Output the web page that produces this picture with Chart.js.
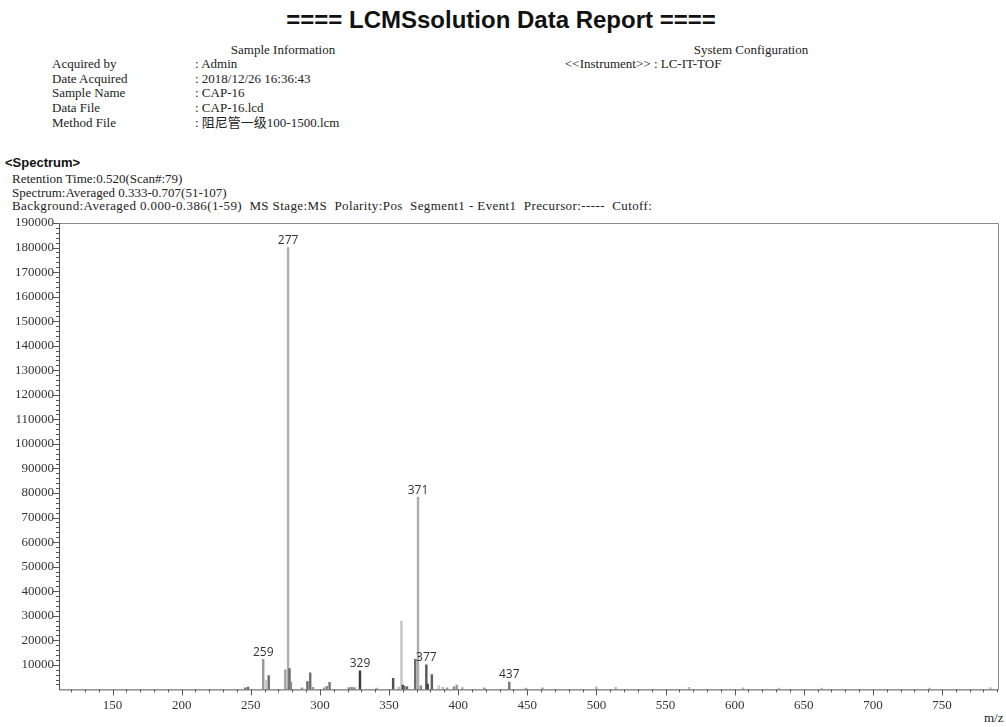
<!DOCTYPE html>
<html>
<head>
<meta charset="utf-8">
<title>LCMSsolution Data Report</title>
<script src="https://cdn.jsdelivr.net/npm/chart.js@4.4.0/dist/chart.umd.min.js"></script>
<style>
  html, body { margin: 0; padding: 0; background: #fff; width: 1006px; height: 727px; overflow: hidden; }
  .t { position: absolute; white-space: pre; font-family: "Liberation Serif", "DejaVu Serif", "Noto Sans CJK SC", serif;
       font-size: 13px; line-height: 14px; color: #222; }
  .title { position: absolute; left: 0; width: 1002px; top: 6px; text-align: center; white-space: pre;
           font-family: "Liberation Sans", Arial, sans-serif; font-weight: bold; font-size: 24px; line-height: 28px; color: #111; }
  .sec { position: absolute; white-space: pre; font-family: "Liberation Sans", Arial, sans-serif; font-weight: bold;
         font-size: 13px; line-height: 14px; color: #111; }
  .c { transform: translateX(-50%); }
  .wide { letter-spacing: 0.4px; }
  #wrap { position: absolute; left: 0; top: 200px; width: 1006px; height: 527px; }
</style>
</head>
<body>
<div class="title">==== LCMSsolution Data Report ====</div>

<div class="t c" style="left:283px;top:43px;">Sample Information</div>
<div class="t c" style="left:751px;top:43px;">System Configuration</div>

<div class="t" style="left:52px;top:57px;">Acquired by</div>
<div class="t" style="left:52px;top:72px;">Date Acquired</div>
<div class="t" style="left:52px;top:86px;">Sample Name</div>
<div class="t" style="left:52px;top:101px;">Data File</div>
<div class="t" style="left:52px;top:116px;">Method File</div>

<div class="t" style="left:195px;top:57px;">: Admin</div>
<div class="t" style="left:195px;top:72px;">: 2018/12/26 16:36:43</div>
<div class="t" style="left:195px;top:86px;">: CAP-16</div>
<div class="t" style="left:195px;top:101px;">: CAP-16.lcd</div>
<div class="t" style="left:195px;top:116px;">: 阻尼管一级100-1500.lcm</div>

<div class="t" style="left:565px;top:57px;">&lt;&lt;Instrument&gt;&gt; : LC-IT-TOF</div>

<div class="sec" style="left:5px;top:156px;">&lt;Spectrum&gt;</div>
<div class="t" style="left:12px;top:172px;">Retention Time:0.520(Scan#:79)</div>
<div class="t" style="left:12px;top:186px;">Spectrum:Averaged 0.333-0.707(51-107)</div>
<div class="t wide" style="left:12px;top:199px;">Background:Averaged 0.000-0.386(1-59)  MS Stage:MS  Polarity:Pos  Segment1 - Event1  Precursor:-----  Cutoff:</div>

<div class="t" style="left:984px;top:711px;">m/z</div>

<div id="wrap"><canvas id="spec" width="1006" height="527"></canvas></div>

<script>
// Centroid peaks of the averaged spectrum: m/z and intensity
const peakMz = [246, 248, 259, 261, 263, 275, 277, 278, 279, 287, 291, 293, 295, 303, 305, 307,
                321, 323, 325, 329, 341, 353, 357, 359, 360, 361, 363, 369, 371, 373, 377, 378,
                381, 386, 389, 392, 397, 399, 403, 419, 437, 449, 461, 500, 514, 567, 606, 632,
                663, 741, 785];
const peakIntensity = [600, 900, 12300, 3800, 5600, 8000, 180000, 8500, 3000, 600, 3200, 6800, 800, 600, 1200, 2900,
                       700, 800, 700, 7600, 500, 4500, 900, 27800, 1800, 1300, 1100, 12200, 78300, 1500, 10000, 2200,
                       6000, 1600, 800, 600, 1000, 1800, 700, 600, 3000, 500, 600, 1000, 800, 800, 600, 500,
                       500, 500, 700];
// Peaks annotated with their m/z
const labeledMz = [259, 277, 329, 371, 377, 437];

// Axis ranges and tick steps
const mzMin = 111.3, mzMax = 790.5;
const intensityMax = 190000;
const xMajorStep = 50, xMinorStep = 10;
const yMajorStep = 10000, yMinorStep = 2000;

// Stick shade for each peak (same order as peakMz)
const peakShade = ['#777', '#666', '#9a9a9a', '#c8c8c8', '#707070', '#a0a0a0', '#b0b0b0', '#6a6a6a', '#888', '#999',
                   '#666', '#707070', '#999', '#999', '#888', '#777', '#888', '#888', '#888', '#3c3c3c', '#aaa',
                   '#505050', '#bbb', '#c6c6c6', '#444', '#666', '#666', '#6a6a6a', '#adadad', '#888', '#5a5a5a',
                   '#444', '#606060', '#ccc', '#bbb', '#999', '#888', '#999', '#aaa', '#999', '#777', '#aaa',
                   '#aaa', '#bbb', '#bbb', '#bbb', '#bbb', '#bbb', '#bbb', '#bbb', '#bbb'];

const serif = '"Liberation Serif", "DejaVu Serif", serif';

// Draws the plot frame and the major/minor tick marks of both axes
const frameAndTicks = {
  id: 'frameAndTicks',
  afterDraw(chart) {
    const { ctx, chartArea: a, scales: { x, y } } = chart;
    ctx.save();
    ctx.lineWidth = 1;
    // top and right border
    ctx.strokeStyle = '#8a8a8a';
    ctx.beginPath();
    ctx.moveTo(a.left, a.top + 0.5); ctx.lineTo(a.right + 0.5, a.top + 0.5);
    ctx.lineTo(a.right + 0.5, a.bottom);
    ctx.stroke();
    // axis lines
    ctx.strokeStyle = '#555';
    ctx.beginPath();
    ctx.moveTo(a.left + 0.5, a.top); ctx.lineTo(a.left + 0.5, a.bottom + 0.5);
    ctx.lineTo(a.right + 0.5, a.bottom + 0.5);
    ctx.stroke();
    // x ticks
    ctx.beginPath();
    for (let v = Math.ceil(x.min / xMinorStep) * xMinorStep; v <= x.max; v += xMinorStep) {
      const px = Math.round(x.getPixelForValue(v)) + 0.5;
      const len = v % xMajorStep === 0 ? 6 : 3;
      ctx.moveTo(px, a.bottom); ctx.lineTo(px, a.bottom + len);
    }
    // y ticks
    for (let v = yMinorStep; v <= y.max; v += yMinorStep) {
      const py = Math.round(y.getPixelForValue(v)) + 0.5;
      const len = v % yMajorStep === 0 ? 6 : 3;
      ctx.moveTo(a.left, py); ctx.lineTo(a.left - len, py);
    }
    ctx.stroke();
    ctx.restore();
  }
};

// Writes the m/z value above each annotated peak
const peakLabels = {
  id: 'peakLabels',
  afterDatasetsDraw(chart) {
    const { ctx } = chart;
    const meta = chart.getDatasetMeta(0);
    ctx.save();
    ctx.font = '12px "Open Sans", "Noto Sans", sans-serif';
    ctx.fillStyle = '#333';
    ctx.textAlign = 'center';
    ctx.textBaseline = 'bottom';
    labeledMz.forEach(mz => {
      const i = peakMz.indexOf(mz);
      if (i < 0) return;
      const bar = meta.data[i];
      ctx.fillText(String(mz), bar.x, bar.y - 1);
    });
    ctx.restore();
  }
};

new Chart(document.getElementById('spec'), {
  type: 'bar',
  data: {
    datasets: [{
      data: peakMz.map((mz, i) => ({ x: mz, y: peakIntensity[i] })),
      backgroundColor: peakShade,
      borderWidth: 0,
      barThickness: 1.8
    }]
  },
  options: {
    responsive: false,
    animation: false,
    layout: { padding: { top: 23, right: 4, left: 0, bottom: 0 } },
    plugins: { legend: { display: false }, tooltip: { enabled: false } },
    scales: {
      x: {
        type: 'linear',
        min: mzMin,
        max: mzMax,
        offset: false,
        grid: { display: false, drawTicks: false },
        border: { display: false },
        ticks: {
          stepSize: xMinorStep,
          autoSkip: false,
          maxRotation: 0,
          padding: 8,
          color: '#333',
          font: { family: serif, size: 13 },
          callback: v => (v % xMajorStep === 0 ? String(v) : '')
        },
        afterFit(s) { s.height = 37.6; }
      },
      y: {
        min: 0,
        max: intensityMax,
        grid: { display: false, drawTicks: false },
        border: { display: false },
        ticks: {
          stepSize: yMajorStep,
          padding: 5,
          color: '#333',
          font: { family: serif, size: 13 },
          callback: v => (v === 0 ? '' : String(v))
        },
        afterFit(s) { s.width = 59; }
      }
    }
  },
  plugins: [frameAndTicks, peakLabels]
});
</script>
</body>
</html>
